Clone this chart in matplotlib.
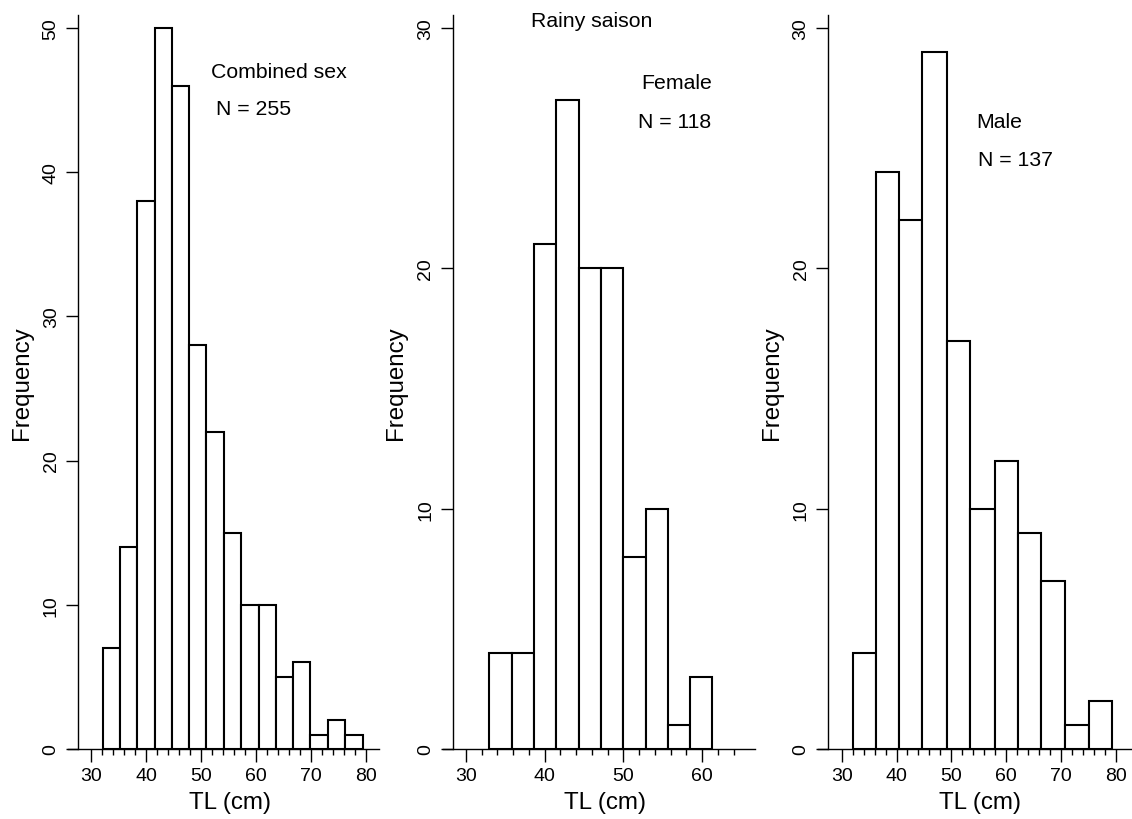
import matplotlib

matplotlib.use("agg")
import matplotlib.pyplot as plt

plt.rcParams["font.family"] = ["Liberation Sans", "DejaVu Sans"]

# Total length histograms, rainy season
combined_edges = [32.1, 35.3, 38.4, 41.6, 44.7, 47.9, 51.0, 54.2, 57.3, 60.5, 63.6, 66.8, 69.9, 73.1, 76.2, 79.4]
combined_counts = [7, 14, 38, 50, 46, 28, 22, 15, 10, 10, 5, 6, 1, 2, 1]

female_edges = [33.0, 35.8, 38.6, 41.4, 44.3, 47.2, 50.0, 52.9, 55.7, 58.5, 61.3]
female_counts = [4, 4, 21, 27, 20, 20, 8, 10, 1, 3]

male_edges = [32.0, 36.2, 40.4, 44.7, 49.2, 53.4, 57.9, 62.1, 66.4, 70.7, 75.0, 79.3]
male_counts = [4, 24, 22, 29, 17, 10, 12, 9, 7, 1, 2]

x_ticks_wide = [30, 40, 50, 60, 70, 80]
x_ticks_female = [30, 40, 50, 60]
y_ticks_combined = [0, 10, 20, 30, 40, 50]
y_ticks_sex = [0, 10, 20, 30]

W, H = 1132, 820
fig = plt.figure(figsize=(W / 100, H / 100), dpi=100)


def panel(left_px, width_px, xlim, spine_x, ytop, edges, counts, xticks, minor_end, yticks, xlab_x, ylab_x):
    ax = fig.add_axes([left_px / W, (H - 750) / H, width_px / W, 734 / H])
    lefts = edges[:-1]
    widths = [b - a for a, b in zip(edges[:-1], edges[1:])]
    ax.bar(lefts, counts, width=widths, align="edge", facecolor="white",
           edgecolor="black", linewidth=1.5)
    ax.set_xlim(*xlim)
    ax.set_ylim(0, ytop)
    ax.spines["top"].set_visible(False)
    ax.spines["right"].set_visible(False)
    ax.spines["left"].set_position(("data", spine_x))
    ax.spines["left"].set_linewidth(1.0)
    ax.spines["bottom"].set_linewidth(1.0)
    ax.set_xticks(xticks)
    ax.set_xticks([v for v in range(30, minor_end + 1, 2) if v % 10], minor=True)
    ax.set_yticks(yticks)
    ax.tick_params(axis="both", which="major", length=9, width=1.0, labelsize=14, pad=4)
    ax.tick_params(axis="x", which="minor", length=4, width=1.0)
    ax.tick_params(axis="y", labelrotation=90)
    for lab in ax.get_yticklabels():
        lab.set_va("center")
    ax.set_xlabel("TL (cm)", fontsize=17.4)
    ax.set_ylabel("Frequency", fontsize=17.4)
    ax.xaxis.label.set_va("center")
    ax.yaxis.label.set_va("center")
    ax.xaxis.set_label_coords(xlab_x, -0.072)
    ax.yaxis.set_label_coords(ylab_x, 0.5)
    return ax


ax1 = panel(68, 311, (25.8, 82.4), 27.58, 50.9, combined_edges, combined_counts,
            x_ticks_wide, 80, y_ticks_combined, 0.521, (22 - 68) / 311)
ax1.text(51.9, 47.0, "Combined sex", fontsize=15.3, ha="left", va="center")
ax1.text(52.7, 44.45, "N = 255", fontsize=15.3, ha="left", va="center")

ax2 = panel(443, 312, (27.1, 66.7), 28.31, 30.55, female_edges, female_counts,
            x_ticks_female, 64, y_ticks_sex, 0.518, (396 - 443) / 312)
ax2.text(46.0, 30.34, "Rainy saison", fontsize=15.3, ha="center", va="center")
ax2.text(52.2, 27.76, "Female", fontsize=15.3, ha="left", va="center")
ax2.text(51.85, 26.1, "N = 118", fontsize=15.3, ha="left", va="center")

ax3 = panel(818, 314, (25.7, 82.9), 27.45, 30.55, male_edges, male_counts,
            x_ticks_wide, 80, y_ticks_sex, 0.516, (772 - 818) / 314)
ax3.text(54.6, 26.13, "Male", fontsize=15.3, ha="left", va="center")
ax3.text(54.8, 24.55, "N = 137", fontsize=15.3, ha="left", va="center")

plt.savefig("out.png", dpi=100, facecolor="white")
plt.close()
